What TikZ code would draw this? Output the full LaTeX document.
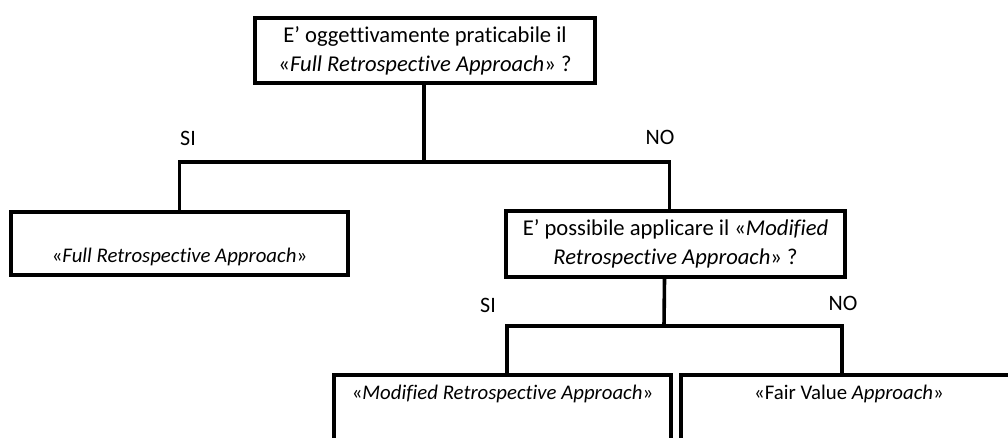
\documentclass[tikz,border=0pt]{standalone}
\usepackage{fontspec}
\setmainfont{Carlito}[Ligatures=NoCommon]
\usetikzlibrary{calc}
\begin{document}
\begin{tikzpicture}[x=1pt,y=-1pt,
  box/.style={draw=black, line width=3.6pt, rectangle, inner sep=0pt, align=center,
              font=\fontsize{20.8}{29}\selectfont},
  question/.style={box, font=\fontsize{22.6}{29}\selectfont},
  link/.style={draw=black, line width=3.6pt, line join=miter},
  answer/.style={font=\fontsize{22}{29}\selectfont, inner sep=0pt}]
\useasboundingbox (0,0) rectangle (1008,438);
\clip (0,0) rectangle (1008,438);

% questions
\node[question, minimum width=340pt, minimum height=65pt] (q1) at (425,50.5)
  {E’ oggettivamente praticabile il\\«\textit{Full Retrospective Approach}» ?};
\node[question, minimum width=339pt, minimum height=66pt] (q2) at (675.5,244)
  {E’ possibile applicare il «\textit{Modified}\\\textit{Retrospective Approach}» ?};

% outcomes
\node[box, minimum width=337pt, text height=50pt, text depth=13pt, anchor=base] (r1) at (179.5,262)
  {«\textit{Full Retrospective Approach}»};
\node[box, minimum width=337pt, text height=24pt, text depth=80pt, anchor=base] (r2) at (502.5,399)
  {«\textit{Modified Retrospective Approach}»};
\node[box, minimum width=336pt, text height=24pt, text depth=80pt, anchor=base] (r3) at (849,399)
  {«Fair Value \textit{Approach}»};

% branch points
\coordinate (j1) at (424,162);
\coordinate (j2) at (664,326);

\draw[link] (q1.south -| j1) -- (j1);
\draw[link] (r1.north) |- (j1) -| ($(q2.north)+(-6,0)$);
\draw[link] ($(q2.south)+(-11,0)$) -- (j2);
\draw[link] ($(r2.north)+(4.5,0)$) |- (j2) -| ($(r3.north)+(-7,0)$);

% answers
\node[answer] (si1) at (188,138) {SI};
\node[answer] (no1) at (660,137) {NO};
\node[answer] (si2) at (488,305) {SI};
\node[answer] (no2) at (843,303) {NO};
\end{tikzpicture}
\end{document}
